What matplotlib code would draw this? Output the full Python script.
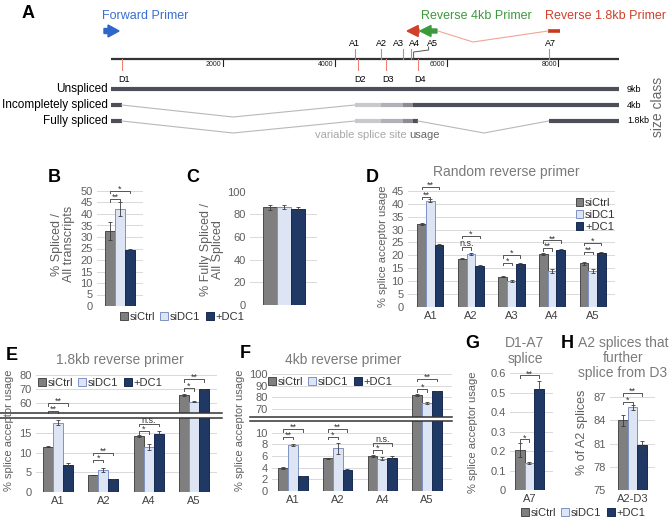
import numpy as np
import matplotlib
matplotlib.use("Agg")
import matplotlib.pyplot as plt
from matplotlib.patches import Patch, FancyArrow

plt.rcParams['font.family'] = ['Liberation Sans', 'DejaVu Sans']

# ---------------- data ----------------
conditions = ["siCtrl", "siDC1", "+DC1"]

# Panel A: HIV genome map (positions in nt)
genome_len = 9084
scale_ticks = [2000, 4000, 6000, 8000]
acceptor_names = ["A1", "A2", "A3", "A4", "A5", "A7"]
acceptor_pos = [4361, 4835, 5220, 5356, 5410, 7825]
donor_names = ["D1", "D2", "D3", "D4"]
donor_pos = [188, 4415, 4916, 5488]
fwd_primer = (-129, 140)
rev4kb_primer = (5828, 5524)
rev18kb_primer = (5506, 5295)
rev18kb_tail = (7814, 8029)
size_classes = ["Unspliced", "Incompletely spliced", "Fully spliced"]
size_labels = ["9kb", "4kb", "1.8kb"]

# Panel B
B_vals = [32.7, 42.0, 24.4]
B_err = [3.8, 3.0, 0.4]
# Panel C
C_vals = [86.0, 86.5, 85.0]
C_err = [2.5, 2.0, 1.5]
# Panel D
D_cats = ["A1", "A2", "A3", "A4", "A5"]
D_vals = [[32.1, 18.7, 11.6, 20.5, 16.9],
          [41.3, 20.5, 10.0, 13.9, 13.9],
          [24.0, 16.0, 16.5, 22.2, 20.8]]
D_err = [[0.3, 0.3, 0.2, 0.2, 0.6],
         [0.4, 0.5, 0.2, 0.8, 0.6],
         [0.4, 0.2, 0.5, 0.4, 0.4]]
D_sig = [(0, 2, 46.6, "**"), (0, 1, 42.7, "**"),
         (1, 2, 27.6, "*"), (1, 1, 23.2, "n.s."),
         (2, 2, 20.1, "*"), (2, 1, 17.0, "*"),
         (3, 2, 25.8, "**"), (3, 1, 22.8, "**"),
         (4, 2, 24.8, "*"), (4, 1, 21.3, "**")]
# Panel E
E_cats = ["A1", "A2", "A4", "A5"]
E_vals = [[11.6, 4.3, 14.3, 65.7],
          [17.7, 5.6, 11.4, 61.0],
          [6.9, 3.2, 14.8, 69.8]]
E_err = [[0.2, 0.1, 0.2, 0.4],
         [0.6, 0.5, 0.8, 0.4],
         [0.6, 0.1, 0.7, 0.4]]
E_sig_up = [(0, 2, 60.0, "**"), (0, 1, 54.3, "**"), (3, 2, 77.1, "**"), (3, 1, 70.7, "*")]
E_sig_lo = [(1, 2, 9.95, "**"), (1, 1, 8.15, "*"), (2, 2, 17.4, "n.s."), (2, 1, 15.6, "*")]
# Panel F
F_cats = ["A1", "A2", "A4", "A5"]
F_vals = [[4.0, 5.6, 6.05, 82.0],
          [7.9, 7.3, 5.55, 75.0],
          [2.5, 3.6, 5.6, 85.3]]
F_err = [[0.2, 0.1, 0.2, 0.5],
         [0.2, 1.0, 0.3, 0.8],
         [0.15, 0.1, 0.4, 0.5]]
F_sig_up = [(3, 2, 95.7, "**"), (3, 1, 87.1, "*")]
F_sig_lo = [(0, 2, 10.6, "**"), (0, 1, 9.26, "**"), (1, 2, 10.6, "**"), (1, 1, 9.26, "*"),
            (2, 2, 8.2, "n.s."), (2, 1, 7.0, "*")]
# Panel G
G_cats = ["A7"]
G_vals = [0.207, 0.138, 0.52]
G_err = [0.035, 0.005, 0.04]
G_sig = [(0, 2, 0.59, "**"), (0, 1, 0.26, "*")]
# Panel H
H_cats = ["A2-D3"]
H_vals = [84.0, 85.7, 80.8]
H_err = [0.7, 0.3, 0.5]
H_sig = [(0, 2, 87.55, "**"), (0, 1, 86.4, "*")]

# ---------------- style ----------------
W, H = 672, 518
fills = ["#7f7f7f", "#dde4f3", "#203864"]
edges = ["#4a4a4a", "#7d93c4", "#172a50"]
TICKC = "#5f5f5f"
GRIDC = "#d9d9d9"
TICKFS = 8
YLFS = 9
YLFS2 = 8

fig = plt.figure(figsize=(W / 100, H / 100), dpi=100)


def add_ax(l, t, r, b):
    return fig.add_axes([l / W, 1 - b / H, (r - l) / W, (b - t) / H])


def ftext(x, y, s, **kw):
    return fig.text(x / W, 1 - y / H, s, **kw)


def style_ax(ax, ylim, yticks, xlim, ticklabels=None, fmt=None):
    ax.set_ylim(*ylim)
    ax.set_xlim(*xlim)
    ax.set_yticks(yticks)
    if fmt is not None:
        ax.set_yticklabels([fmt(v) for v in yticks])
    for s in ax.spines.values():
        s.set_visible(False)
    ax.tick_params(axis='both', length=0, labelsize=TICKFS, labelcolor=TICKC, pad=3)
    ax.yaxis.grid(True, color=GRIDC, lw=0.7)
    ax.set_axisbelow(True)
    if ticklabels is None:
        ax.set_xticks([])
    else:
        ax.set_xticks(np.arange(len(ticklabels)))
        ax.set_xticklabels(ticklabels, fontsize=8, color="#404040")
    ax.patch.set_alpha(0)


def draw_bars(ax, vals, errs, w):
    vals = np.array(vals, dtype=float)
    errs = np.array(errs, dtype=float)
    n = vals.shape[1]
    x = np.arange(n)
    for k in range(3):
        ax.bar(x + (k - 1) * w, vals[k], w, yerr=errs[k], color=fills[k], edgecolor=edges[k],
               linewidth=0.7, error_kw=dict(ecolor="#3a3a3a", elinewidth=0.6, capsize=1.6, capthick=0.6))


def brackets(ax, sig, w, tick_px=2.5):
    y0, y1 = ax.get_ylim()
    hpx = ax.get_position().height * H
    h = tick_px * (y1 - y0) / hpx
    lift = (y1 - y0) / hpx
    for g, j, y, txt in sig:
        xa = g - w
        xb = g + (j - 1) * w
        ax.plot([xa, xa, xb, xb], [y - h, y, y, y - h], color="#555555", lw=0.7, clip_on=False)
        ax.text((xa + xb) / 2, y + lift * (0.8 if txt == "n.s." else -1.0), txt, ha='center', va='baseline',
                fontsize=6.5, color="#333333", clip_on=False)


handles = [Patch(facecolor=fills[k], edgecolor=edges[k], linewidth=0.7) for k in range(3)]


def hlegend(x, y, fs=8):
    fig.legend(handles, conditions, loc='center', bbox_to_anchor=(x / W, 1 - y / H), ncol=3,
               frameon=False, fontsize=fs, handlelength=0.7, handleheight=0.7, handletextpad=0.15,
               columnspacing=0.5, borderpad=0, labelcolor="#333333")

# ---------------- Panel A ----------------
axA = add_ax(111.2, 0, 111.2 + genome_len * 0.0559, 190)
axA.set_xlim(0, genome_len)
axA.set_ylim(190, 0)
axA.axis('off')
ypx = 1 / 0.0559  # nt per pixel

ftext(28, 14, "A", fontsize=13, fontweight='bold', ha='center', va='center')
axA.text(fwd_primer[0] - 2 * ypx, 16, "Forward Primer", color="#3a6fd0", fontsize=9, va='center', ha='left', clip_on=False)
axA.add_patch(FancyArrow(fwd_primer[0], 31, fwd_primer[1] - fwd_primer[0], 0, width=5, head_width=12,
                         head_length=11 * ypx, length_includes_head=True, color="#2f66cc", clip_on=False))
axA.text(5540, 16, "Reverse 4kb Primer", color="#3c9a3c", fontsize=9, va='center', ha='left')
axA.text(7760, 16, "Reverse 1.8kb Primer", color="#d0402a", fontsize=9, va='center', ha='left', clip_on=False)
axA.add_patch(FancyArrow(rev18kb_primer[0], 31, rev18kb_primer[1] - rev18kb_primer[0], 0, width=4, head_width=11,
                         head_length=11 * ypx, length_includes_head=True, color="#d0402a"))
axA.add_patch(FancyArrow(rev4kb_primer[0], 31, rev4kb_primer[1] - rev4kb_primer[0], 0, width=4, head_width=11,
                         head_length=11 * ypx, length_includes_head=True, color="#3c9a3c"))
axA.plot(rev18kb_tail, [31, 31], color="#c8391e", lw=2.6, solid_capstyle='butt')
axA.plot([rev4kb_primer[0] + 1 * ypx, (rev4kb_primer[0] + rev18kb_tail[0]) / 2 - 350, rev18kb_tail[0]], [31, 42, 31],
         color="#f2a595", lw=0.8)

# genome line and scale
axA.plot([0, genome_len], [59, 59], color="#333333", lw=1.6, solid_capstyle='butt')
for t in scale_ticks:
    axA.plot([t, t], [60, 66], color="#222222", lw=0.8)
    axA.text(t - 1.5 * ypx, 64, str(t), fontsize=5, ha='right', va='center', color="#222222")
label_off = {"A1": 0, "A2": 0, "A3": -5 * ypx, "A4": 4 * ypx, "A5": 0, "A7": 1.5 * ypx}
for n, p in zip(acceptor_names, acceptor_pos):
    if n == "A5":
        axA.plot([p, p, p + 15 * ypx, p + 15 * ypx], [59, 52, 50, 47], color="#555555", lw=0.7)
        axA.text(p + 19 * ypx, 43, n, fontsize=6.5, ha='center', va='center')
    else:
        axA.plot([p, p], [49, 59], color="#9a9a9a", lw=0.8)
        axA.text(p + label_off[n], 43, n, fontsize=6.5, ha='center', va='center')
for n, p in zip(donor_names, donor_pos):
    axA.plot([p, p], [59, 70], color="#f08070", lw=0.8)
    axA.text(p + 2 * ypx, 80, n, fontsize=6.5, ha='center', va='center')

row_y = [89, 105, 121]
dark = "#4d5058"
segc = ["#c9c9cd", "#b1b1b7", "#8d8d95"]
LW = 3.0
axA.plot([0, genome_len], [row_y[0]] * 2, color=dark, lw=LW, solid_capstyle='butt')
a1, a2, a3, a4, a5, a7 = acceptor_pos
d1, d2, d3, d4 = donor_pos
for r in (1, 2):
    y = row_y[r]
    axA.plot([0, d1], [y, y], color=dark, lw=LW, solid_capstyle='butt')
    axA.plot([d1, 2179, a1], [y, y + 12, y], color="#b8b8b8", lw=0.8)
    for (s, e), c in zip([(a1, a2), (a2, a3), (a3, a4 + 50)], segc):
        axA.plot([s, e], [y, y], color=c, lw=LW, solid_capstyle='butt')
axA.plot([a4 + 50, genome_len], [row_y[1]] * 2, color=dark, lw=LW, solid_capstyle='butt')
axA.plot([a4 + 50, d4], [row_y[2]] * 2, color=dark, lw=LW, solid_capstyle='butt')
axA.plot([d4, 6669, a7], [row_y[2], row_y[2] + 12, row_y[2]], color="#b8b8b8", lw=0.8)
axA.plot([a7, genome_len], [row_y[2]] * 2, color=dark, lw=LW, solid_capstyle='butt')
for y, n, s in zip(row_y, size_classes, size_labels):
    axA.text(-3.5 * ypx, y, n, fontsize=8.5, ha='right', va='center', clip_on=False)
    axA.text(genome_len + 8 * ypx, y, s, fontsize=6.5, ha='left', va='center', clip_on=False)
ftext(658, 107, "size class", rotation=90, fontsize=10, color="#666666", ha='center', va='center')
ftext(407, 135, "variable splice site", fontsize=8, color="#a8a8a8", ha='right', va='center')
ftext(409.5, 135, "usage", fontsize=8, color="#666666", ha='left', va='center')

# ---------------- Panel B ----------------
axB = add_ax(97, 191, 143, 306)
style_ax(axB, (0, 50), np.arange(0, 51, 5), (-0.5, 0.5))
draw_bars(axB, [[v] for v in B_vals], [[e] for e in B_err], 0.217)
brackets(axB, [(0, 2, 50.0, "*"), (0, 1, 46.5, "**")], 0.217)
ftext(54, 178, "B", fontsize=13, fontweight='bold', ha='center', va='center')
ftext(63, 244, "% Spliced /\nAll transcripts", rotation=90, fontsize=YLFS, color=TICKC, ha='center', va='center',
      linespacing=1.0)

# ---------------- Panel C ----------------
axC = add_ax(250, 191.5, 317, 305)
style_ax(axC, (0, 100), np.arange(0, 101, 20), (-0.51, 0.49))
draw_bars(axC, [[v] for v in C_vals], [[e] for e in C_err], 0.21)
ftext(193, 178, "C", fontsize=13, fontweight='bold', ha='center', va='center')
ftext(212, 250, "% Fully Spliced /\nAll Spliced", rotation=90, fontsize=YLFS, color=TICKC, ha='center', va='center',
      linespacing=1.0)
hlegend(182, 317)

# ---------------- Panel D ----------------
axD = add_ax(408, 191, 615, 306.7)
style_ax(axD, (0, 45), np.arange(0, 46, 5), (-0.55, 4.55), D_cats)
draw_bars(axD, D_vals, D_err, 0.215)
brackets(axD, D_sig, 0.215)
ftext(372, 178, "D", fontsize=13, fontweight='bold', ha='center', va='center')
ftext(506, 172, "Random reverse primer", fontsize=10, color="#7a7a7a", ha='center', va='center')
ftext(383, 246, "% splice acceptor usage", rotation=90, fontsize=YLFS2, color=TICKC, ha='center', va='center')
fig.legend(handles, conditions, loc='upper left', bbox_to_anchor=(570 / W, 1 - 192 / H), ncol=1,
           frameon=False, fontsize=8, handlelength=0.7, handleheight=0.7, handletextpad=0.15,
           labelspacing=0.2, borderpad=0, labelcolor="#333333")

# ---------------- Panel E ----------------
axEu = add_ax(36, 372, 217, 413)
style_ax(axEu, (52.86, 82.14), [60, 70, 80], (-0.49, 3.51))
axEl = add_ax(36, 417.5, 217, 491.7)
style_ax(axEl, (0, 19.07), [0, 5, 10, 15], (-0.49, 3.51), E_cats)
for ax in (axEu, axEl):
    draw_bars(ax, E_vals, E_err, 0.22)
brackets(axEu, E_sig_up, 0.22)
brackets(axEl, E_sig_lo, 0.22)
for yy in (413, 417.5):
    fig.add_artist(plt.Line2D([0, 222 / W], [1 - yy / H] * 2, color="#333333", lw=1.1))
ftext(12, 355, "E", fontsize=13, fontweight='bold', ha='center', va='center')
ftext(120, 360, "1.8kb reverse primer", fontsize=10, color="#7a7a7a", ha='center', va='center')
ftext(9, 430, "% splice acceptor usage", rotation=90, fontsize=YLFS2, color=TICKC, ha='center', va='center')
hlegend(100, 383)

# ---------------- Panel F ----------------
axFu = add_ax(272, 372, 452, 417)
style_ax(axFu, (63.1, 101.7), [70, 80, 90, 100], (-0.47, 3.56))
axFl = add_ax(272, 421, 452, 491)
style_ax(axFl, (0, 12), [0, 2, 4, 6, 8, 10], (-0.47, 3.56), F_cats)
for ax in (axFu, axFl):
    draw_bars(ax, F_vals, F_err, 0.217)
brackets(axFu, F_sig_up, 0.217)
brackets(axFl, F_sig_lo, 0.217)
for yy in (417, 421):
    fig.add_artist(plt.Line2D([250 / W, 452 / W], [1 - yy / H] * 2, color="#333333", lw=1.1))
ftext(245, 353, "F", fontsize=13, fontweight='bold', ha='center', va='center')
ftext(343, 360, "4kb reverse primer", fontsize=10, color="#7a7a7a", ha='center', va='center')
ftext(240, 430, "% splice acceptor usage", rotation=90, fontsize=YLFS2, color=TICKC, ha='center', va='center')
hlegend(330, 382)

# ---------------- Panel G ----------------
axG = add_ax(510, 373.3, 553, 490)
style_ax(axG, (0, 0.6), np.round(np.arange(0, 0.61, 0.1), 1), (-0.453, 0.547), G_cats,
         fmt=lambda v: "0" if v == 0 else f"{v:.1f}")
draw_bars(axG, [[v] for v in G_vals], [[e] for e in G_err], 0.22)
brackets(axG, G_sig, 0.22)
ftext(472, 343, "G", fontsize=13, fontweight='bold', ha='center', va='center')
ftext(525, 351, "D1-A7\nsplice", fontsize=10, color="#7a7a7a", ha='center', va='center', linespacing=1.1)
ftext(473, 432, "% splice acceptor usage", rotation=90, fontsize=YLFS2, color=TICKC, ha='center', va='center')

# ---------------- Panel H ----------------
axH = add_ax(610, 397.3, 655, 490)
style_ax(axH, (75, 87), [75, 78, 81, 84, 87], (-0.5, 0.5), H_cats)
draw_bars(axH, [[v] for v in H_vals], [[e] for e in H_err], 0.215)
brackets(axH, H_sig, 0.215)
ftext(567, 343, "H", fontsize=13, fontweight='bold', ha='center', va='center')
ftext(623, 358, "A2 splices that\nfurther\nsplice from D3", fontsize=10, color="#7a7a7a", ha='center',
      va='center', linespacing=1.05)
ftext(582, 432, "% of A2 splices", rotation=90, fontsize=YLFS, color=TICKC, ha='center', va='center')
hlegend(583, 513)

fig.savefig("out.png", dpi=100)
